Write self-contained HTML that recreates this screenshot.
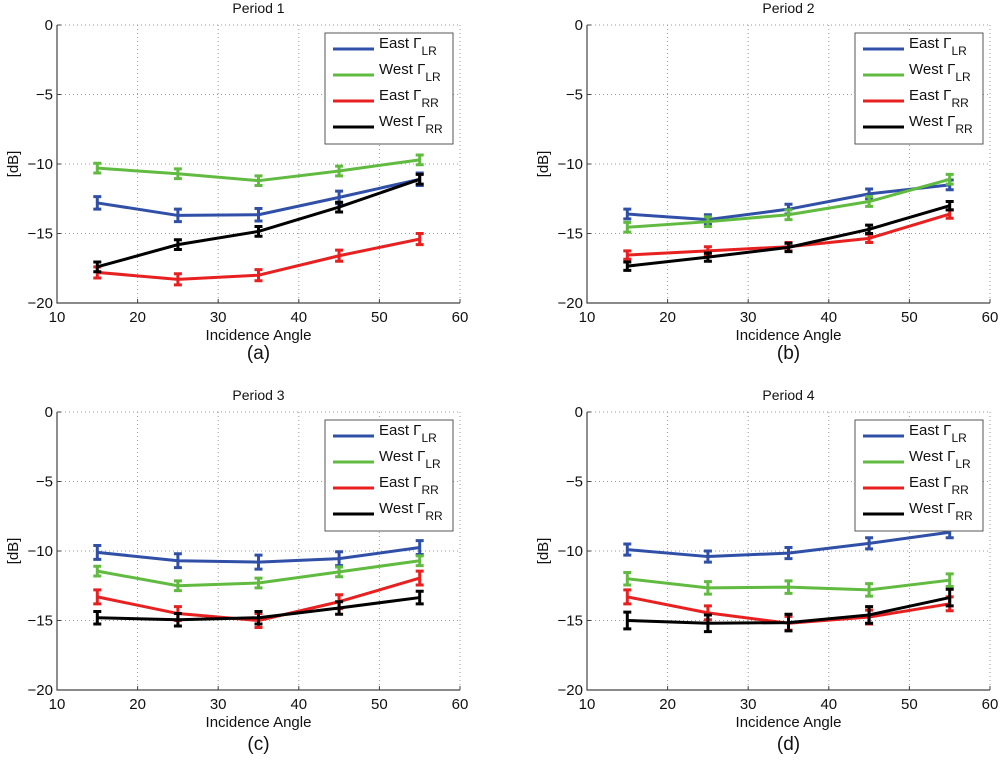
<!DOCTYPE html>
<html><head><meta charset="utf-8"><style>
body{margin:0;background:#fff;width:1000px;height:755px;overflow:hidden}
svg text{font-family:"Liberation Sans",sans-serif;fill:#111}
</style></head><body>
<svg id="fig" width="1000" height="755"></svg>
<script>
const xTicks=[10,20,30,40,50,60];
const yTicks=[0,-5,-10,-15,-20];
const angles=[15,25,35,45,55];
const titles=["Period 1","Period 2","Period 3","Period 4"];
const letters=["(a)","(b)","(c)","(d)"];
const seriesNames=["East","West","East","West"];
const seriesSubs=["LR","LR","RR","RR"];
const colors=["#3050a8","#60bb40","#e82020","#000000"];
// values per panel: [eastLR, westLR, eastRR, westRR]
const p1EastLR=[-12.8,-13.7,-13.65,-12.4,-11.1];
const p1WestLR=[-10.3,-10.7,-11.2,-10.5,-9.7];
const p1EastRR=[-17.8,-18.3,-18.0,-16.6,-15.4];
const p1WestRR=[-17.4,-15.8,-14.85,-13.1,-11.1];
const p2EastLR=[-13.6,-14.0,-13.25,-12.15,-11.5];
const p2WestLR=[-14.55,-14.15,-13.65,-12.7,-11.1];
const p2EastRR=[-16.55,-16.25,-15.95,-15.35,-13.6];
const p2WestRR=[-17.35,-16.7,-16.0,-14.7,-13.0];
const p3EastLR=[-10.1,-10.7,-10.8,-10.55,-9.75];
const p3WestLR=[-11.45,-12.5,-12.3,-11.5,-10.7];
const p3EastRR=[-13.3,-14.5,-15.0,-13.65,-11.95];
const p3WestRR=[-14.8,-14.95,-14.8,-14.1,-13.35];
const p4EastLR=[-9.9,-10.4,-10.15,-9.45,-8.65];
const p4WestLR=[-12.0,-12.65,-12.6,-12.8,-12.1];
const p4EastRR=[-13.3,-14.45,-15.2,-14.75,-13.8];
const p4WestRR=[-15.0,-15.2,-15.15,-14.6,-13.35];
const errP1=[0.45,0.35,0.4,0.35];
const errP2=[0.35,0.35,0.3,0.3];
const errP3=[0.5,0.35,0.5,0.45];
const errP4=[0.4,0.45,0.5,0.6];
const panelData=[[p1EastLR,p1WestLR,p1EastRR,p1WestRR],[p2EastLR,p2WestLR,p2EastRR,p2WestRR],[p3EastLR,p3WestLR,p3EastRR,p3WestRR],[p4EastLR,p4WestLR,p4EastRR,p4WestRR]];
const panelErr=[errP1,errP2,errP3,errP4];

const NS="http://www.w3.org/2000/svg";
const svg=document.getElementById('fig');
function mk(tag,attrs,parent){const e=document.createElementNS(NS,tag);for(const k in attrs)e.setAttribute(k,attrs[k]);(parent||svg).appendChild(e);return e;}
const boxes=[{l:57,t:25},{l:587,t:25},{l:57,t:412},{l:587,t:412}];
const W=403,H=278;
boxes.forEach((b,pi)=>{
  const g=mk('g',{});
  
  
  const xs=v=>b.l+(v-10)/50*W;
  const ys=v=>b.t+(0-v)/20*H;
  xTicks.forEach(t=>{if(t>10){const l=mk('line',{x1:xs(t),x2:xs(t),y1:b.t,y2:b.t+H,stroke:'#999','stroke-dasharray':'1,3','stroke-width':1},g);}});
  yTicks.forEach(t=>{if(t>-20){const l=mk('line',{x1:b.l,x2:b.l+W,y1:ys(t),y2:ys(t),stroke:'#999','stroke-dasharray':'1,3','stroke-width':1},g);}});
  const ax=mk('path',{d:`M${b.l},${b.t} V${b.t+H} H${b.l+W}`,stroke:'#444',fill:'none','stroke-width':1.2},g);
  
  xTicks.forEach(t=>{
    mk('line',{x1:xs(t),x2:xs(t),y1:b.t+H,y2:b.t+H-4,stroke:'#444'},g);
    const tx=mk('text',{x:xs(t),y:b.t+H+19,'text-anchor':'middle','font-size':15},g);tx.textContent=t;
    
  });
  yTicks.forEach(t=>{
    mk('line',{x1:b.l,x2:b.l+4,y1:ys(t),y2:ys(t),stroke:'#444'},g);
    const tx=mk('text',{x:b.l-4,y:ys(t)+5,'text-anchor':'end','font-size':15},g);tx.textContent=t===0?'0':'\u2212'+Math.abs(t);
    
  });
  const tt=mk('text',{x:b.l+W/2,y:b.t-12,'text-anchor':'middle','font-size':14},g);tt.textContent=titles[pi];
  
  const xl=mk('text',{x:b.l+W/2,y:b.t+H+37,'text-anchor':'middle','font-size':15},g);xl.textContent='Incidence Angle';
  
  const lt=mk('text',{x:b.l+W/2,y:b.t+H+(pi<2?56:60),'text-anchor':'middle','font-size':19},g);lt.textContent=letters[pi];
  
  const yl=mk('text',{x:0,y:0,'text-anchor':'middle','font-size':15,transform:`translate(${b.l-39},${b.t+H/2}) rotate(-90)`},g);yl.textContent='[dB]';
  
  panelData[pi].forEach((vals,si)=>{
    const sg=mk('g',{},g);
    
    
    const d=vals.map((v,i)=>(i?'L':'M')+xs(angles[i])+','+ys(v)).join(' ');
    const p=mk('path',{d:d,stroke:colors[si],'stroke-width':3,fill:'none','stroke-linejoin':'round'},sg);
    
    vals.forEach((v,i)=>{
      const e=panelErr[pi][si],x=xs(angles[i]);
      const eb=mk('path',{d:`M${x},${ys(v+e)} V${ys(v-e)} M${x-4},${ys(v+e)} H${x+4} M${x-4},${ys(v-e)} H${x+4}`,stroke:colors[si],'stroke-width':3,fill:'none'},sg);
      
    });
  });
  const lg=mk('g',{},g);
  
  const lx=b.l+268,ly=b.t+8;
  mk('rect',{x:lx,y:ly,width:128,height:111,fill:'#fff',stroke:'#555','stroke-width':1},lg);
  for(let si=0;si<4;si++){
    const ry=ly+16+si*26;
    const e=mk('g',{},lg);
    
    mk('line',{x1:lx+8,x2:lx+49,y1:ry,y2:ry,stroke:colors[si],'stroke-width':3},e);
    const t=mk('text',{x:lx+54,y:ry-1,'font-size':15},e);
    t.textContent=seriesNames[si]+' \u0393';
    const s=mk('tspan',{dy:7,'font-size':12},t);s.textContent=seriesSubs[si];
  }
});
</script>
</body></html>
